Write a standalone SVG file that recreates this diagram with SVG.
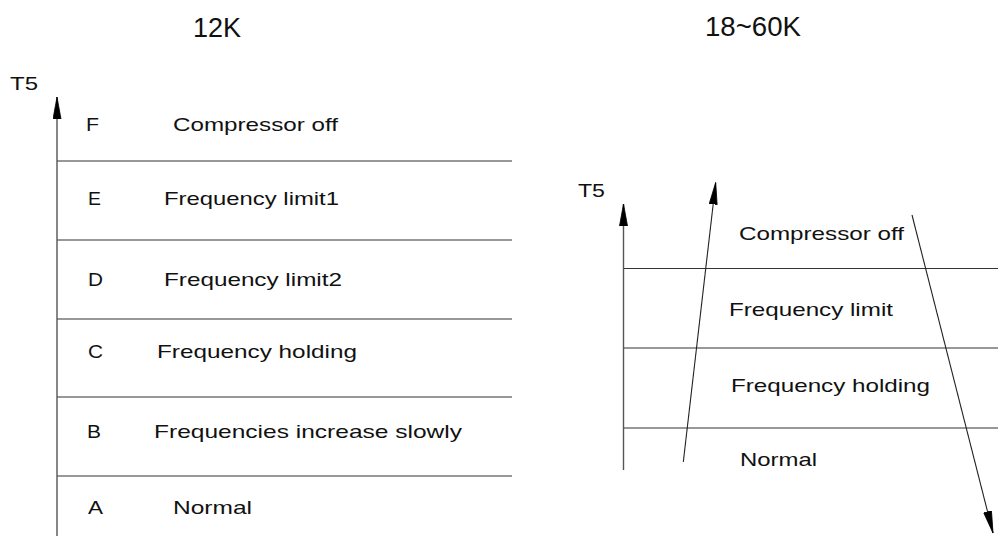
<svg xmlns="http://www.w3.org/2000/svg" width="998" height="536" viewBox="0 0 998 536">
<style>
text{font-family:"Liberation Sans",Arial,sans-serif;font-size:19px;fill:#111}
.t{font-size:27px}
.h{stroke:#333;stroke-width:1.2;fill:none}
.ax{stroke:#555;stroke-width:1.4;fill:none}
.ar{stroke:#222;stroke-width:1.1;fill:none}
</style>
<defs>
<marker id="ah" viewBox="0 0 22 9" refX="22" refY="4.5" markerWidth="22" markerHeight="9" markerUnits="userSpaceOnUse" orient="auto">
<path d="M0,0.5 L22,4.5 L0,8.5 z" fill="#000" stroke="#000" stroke-width="0.8"/>
</marker>
</defs>
<rect width="998" height="536" fill="#fff"/>
<g id="titles">
<text class="t" x="193" y="37" textLength="48" lengthAdjust="spacingAndGlyphs">12K</text>
<text class="t" x="705" y="36" textLength="96" lengthAdjust="spacingAndGlyphs">18~60K</text>
</g>
<g id="chart12k">
<text x="10" y="90" textLength="28" lengthAdjust="spacingAndGlyphs">T5</text>
<g id="zoneF"><text x="86" y="131" textLength="13" lengthAdjust="spacingAndGlyphs">F</text><text x="173" y="131" textLength="165" lengthAdjust="spacingAndGlyphs">Compressor off</text></g>
<line class="h" x1="57" y1="161" x2="512" y2="161"/>
<g id="zoneE"><text x="88" y="205" textLength="13" lengthAdjust="spacingAndGlyphs">E</text><text x="164" y="205" textLength="175" lengthAdjust="spacingAndGlyphs">Frequency limit1</text></g>
<line class="h" x1="57" y1="240" x2="512" y2="240"/>
<g id="zoneD"><text x="88" y="286" textLength="15" lengthAdjust="spacingAndGlyphs">D</text><text x="164" y="286" textLength="178" lengthAdjust="spacingAndGlyphs">Frequency limit2</text></g>
<line class="h" x1="57" y1="319" x2="512" y2="319"/>
<g id="zoneC"><text x="88" y="358" textLength="15" lengthAdjust="spacingAndGlyphs">C</text><text x="157" y="358" textLength="200" lengthAdjust="spacingAndGlyphs">Frequency holding</text></g>
<line class="h" x1="57" y1="397" x2="512" y2="397"/>
<g id="zoneB"><text x="87" y="438" textLength="14" lengthAdjust="spacingAndGlyphs">B</text><text x="154" y="438" textLength="308" lengthAdjust="spacingAndGlyphs">Frequencies increase slowly</text></g>
<line class="h" x1="57" y1="476" x2="512" y2="476"/>
<g id="zoneA"><text x="88" y="514" textLength="15" lengthAdjust="spacingAndGlyphs">A</text><text x="173" y="514" textLength="79" lengthAdjust="spacingAndGlyphs">Normal</text></g>
</g>
<g id="chart18k">
<text x="578" y="197" textLength="27" lengthAdjust="spacingAndGlyphs">T5</text>
<g id="rzone4"><text x="739" y="240" textLength="165" lengthAdjust="spacingAndGlyphs">Compressor off</text></g>
<line class="h" x1="624" y1="268.5" x2="998" y2="268.5"/>
<g id="rzone3"><text x="729" y="316" textLength="164" lengthAdjust="spacingAndGlyphs">Frequency limit</text></g>
<line class="h" x1="624" y1="348" x2="998" y2="348"/>
<g id="rzone2"><text x="731" y="392" textLength="199" lengthAdjust="spacingAndGlyphs">Frequency holding</text></g>
<line class="h" x1="624" y1="428" x2="998" y2="428"/>
<g id="rzone1"><text x="740" y="466" textLength="77" lengthAdjust="spacingAndGlyphs">Normal</text></g>
</g>
<g id="connectors">
<line class="ax" x1="57" y1="536" x2="57" y2="97" marker-end="url(#ah)"/>
<line class="ax" x1="623.5" y1="470" x2="623.5" y2="204" marker-end="url(#ah)"/>
<line class="ar" x1="683.3" y1="462" x2="715.7" y2="182.5" marker-end="url(#ah)"/>
<line class="ar" x1="912" y1="215" x2="993" y2="533" marker-end="url(#ah)"/>
</g>
</svg>
